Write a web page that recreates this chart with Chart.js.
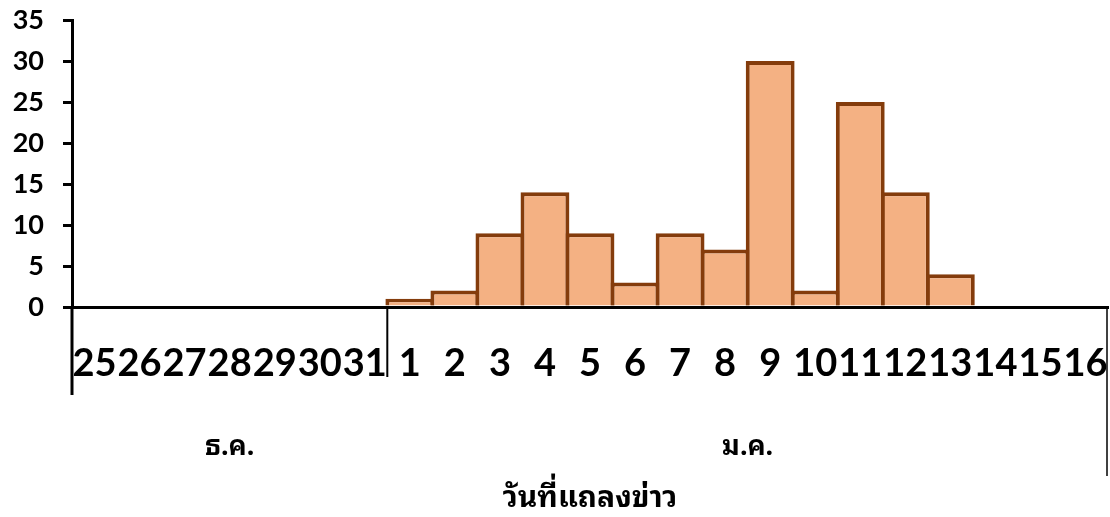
<!DOCTYPE html>
<html>
<head>
<meta charset="utf-8">
<script src="https://cdn.jsdelivr.net/npm/chart.js@4"></script>
<style>
	html, body { margin: 0; padding: 0; background: #fff; }
	#wrap { width: 1110px; height: 517px; position: relative; }
</style>
</head>
<body>
<div id="wrap"><canvas id="chart"></canvas></div>
<script>
// days of the press releases, Dec then Jan
const dayLabels = [ '25', '26', '27', '28', '29', '30', '31',
	'1', '2', '3', '4', '5', '6', '7', '8', '9', '10', '11', '12', '13', '14', '15', '16' ];
const counts = [ 0, 0, 0, 0, 0, 0, 0,
	1, 2, 9, 14, 9, 3, 9, 7, 30, 2, 25, 14, 4, 0, 0, 0 ];
const monthNames = [ 'ธ.ค.', 'ม.ค.' ];
const monthSizes = [ 7, 16 ];
const yTicks = [ 0, 5, 10, 15, 20, 25, 30, 35 ];
const axisTitle = 'วันที่แถลงข่าว';

const thaiFont = 'Tahoma, "Noto Sans Thai Looped", "Noto Serif Thai", Loma, Garuda, Norasi, "Noto Sans Thai", "Noto Sans", sans-serif';
const numFont = 'Lato, "Open Sans", sans-serif';

// month groups under the day labels
const monthGroups = {
	id: 'monthGroups',
	afterDraw( chart ) {
		const ctx = chart.ctx;
		const xs = chart.scales.x;
		const area = chart.chartArea;
		const base = chart.scales.y.getPixelForValue( 0 );
		const half = ( xs.getPixelForValue( 1 ) - xs.getPixelForValue( 0 ) ) / 2;
		let start = 0;
		const edges = [ area.left ];
		monthSizes.forEach( ( n ) => {
			start += n;
			edges.push( start >= dayLabels.length ? area.right : xs.getPixelForValue( start ) - half );
		} );

		ctx.save();
		ctx.strokeStyle = '#000';
		// left edge, middle split, right edge
		const lines = [ [ edges[ 0 ], 88, 3 ], [ edges[ 1 ], 70, 2 ], [ edges[ 2 ] - 1, 169, 1.5 ] ];
		lines.forEach( ( l ) => {
			ctx.lineWidth = l[ 2 ];
			ctx.beginPath();
			ctx.moveTo( l[ 0 ], base );
			ctx.lineTo( l[ 0 ], base + l[ 1 ] );
			ctx.stroke();
		} );

		ctx.fillStyle = '#000';
		ctx.font = 'bold 27px ' + thaiFont;
		ctx.textAlign = 'center';
		ctx.textBaseline = 'middle';
		monthNames.forEach( ( name, i ) => {
			ctx.fillText( name, ( edges[ i ] + edges[ i + 1 ] ) / 2, 447 );
		} );
		ctx.restore();
	},
};

new Chart( document.getElementById( 'chart' ), {
	type: 'bar',
	data: {
		labels: dayLabels,
		datasets: [
			{
				data: counts,
				backgroundColor: '#F4B183',
				borderColor: '#843C0C',
				borderWidth: 4,
				borderSkipped: 'start',
				categoryPercentage: 1,
				barPercentage: 1.085,
			},
		],
	},
	options: {
		responsive: true,
		maintainAspectRatio: false,
		animation: false,
		layout: { padding: { top: 20, right: 2, left: 0, bottom: 0 } },
		plugins: {
			legend: { display: false },
			tooltip: { enabled: false },
		},
		scales: {
			x: {
				grid: { display: false, drawTicks: false },
				border: { display: true, color: '#000', width: 3 },
				ticks: {
					autoSkip: false,
					maxRotation: 0,
					minRotation: 0,
					padding: 34,
					color: '#000',
					font: { family: numFont, size: 38, weight: 'bold' },
				},
				title: {
					display: true,
					text: axisTitle,
					color: '#000',
					padding: { top: 0, bottom: 0 },
					font: { family: thaiFont, size: 30, weight: 'bold' },
				},
				afterFit( scale ) {
					scale.height = 210;
					scale.paddingLeft = 0;
					scale.paddingRight = 0;
				},
			},
			y: {
				min: 0,
				max: 35,
				afterBuildTicks( scale ) {
					scale.ticks = yTicks.map( ( v ) => ( { value: v } ) );
				},
				grid: {
					drawOnChartArea: false,
					drawTicks: true,
					tickLength: 9,
					color: '#000',
					lineWidth: 3,
				},
				border: { display: true, color: '#000', width: 3 },
				ticks: {
					padding: 19,
					color: '#000',
					font: { family: numFont, size: 27, weight: 'bold' },
				},
				afterFit( scale ) {
					scale.width = 72;
					scale.paddingTop = 0;
					scale.paddingBottom = 0;
				},
			},
		},
	},
	plugins: [ monthGroups ],
} );
</script>
</body>
</html>
